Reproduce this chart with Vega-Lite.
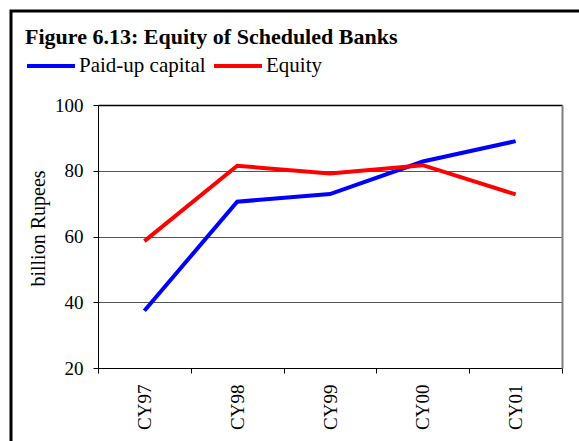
{
  "$schema": "https://vega.github.io/schema/vega-lite/v6.json",
  "width": 572,
  "height": 434,
  "autosize": "none",
  "padding": {"left": 11, "top": 11, "right": 0, "bottom": 0},
  "background": "white",
  "config": {
    "font": "Liberation Serif",
    "view": {"stroke": "black", "strokeWidth": 3},
    "legend": {"labelFont": "Liberation Serif", "labelFontSize": 21, "labelColor": "black"},
    "style": {"guide-label": {"font": "Liberation Serif"}, "guide-title": {"font": "Liberation Serif"}}
  },
  "title": {
    "text": "Figure 6.13: Equity of Scheduled Banks",
    "anchor": "start",
    "frame": "group",
    "orient": "top",
    "offset": 0,
    "baseline": "alphabetic",
    "dx": 14,
    "dy": 55,
    "font": "Liberation Serif",
    "fontSize": 22,
    "fontWeight": "bold",
    "color": "black"
  },
  "data": {
    "values": [
      {"year": "CY97", "series": "Paid-up capital", "value": 37.4},
      {"year": "CY98", "series": "Paid-up capital", "value": 70.6},
      {"year": "CY99", "series": "Paid-up capital", "value": 72.9},
      {"year": "CY00", "series": "Paid-up capital", "value": 82.8},
      {"year": "CY01", "series": "Paid-up capital", "value": 89.0},
      {"year": "CY97", "series": "Equity", "value": 58.6},
      {"year": "CY98", "series": "Equity", "value": 81.5},
      {"year": "CY99", "series": "Equity", "value": 79.2},
      {"year": "CY00", "series": "Equity", "value": 81.7},
      {"year": "CY01", "series": "Equity", "value": 72.8}
    ]
  },
  "layer": [
    {
      "mark": {"type": "line", "strokeWidth": 4},
      "encoding": {
        "x": {
          "field": "year",
          "type": "nominal",
          "bandPosition": 0.5,
          "scale": {
            "type": "band",
            "domain": ["CY97", "CY98", "CY99", "CY00", "CY01"],
            "range": [87, 551],
            "paddingInner": 0,
            "paddingOuter": 0
          },
          "axis": {
            "orient": "bottom",
            "offset": -77,
            "title": null,
            "domainColor": "black",
            "domainWidth": 1,
            "tickColor": "black",
            "tickWidth": 1,
            "tickSize": 5,
            "tickBand": "extent",
            "labelAngle": -90,
            "labelAlign": "right",
            "labelBaseline": "middle",
            "labelPadding": 11,
            "labelFont": "Liberation Serif",
            "labelFontSize": 19,
            "labelColor": "black",
            "grid": false
          }
        },
        "y": {
          "field": "value",
          "type": "quantitative",
          "scale": {"domain": [20, 100], "range": [357, 94], "nice": false, "zero": false},
          "axis": {
            "orient": "left",
            "offset": -87,
            "values": [20, 40, 60, 80, 100],
            "domainColor": "black",
            "domainWidth": 1,
            "tickColor": "black",
            "tickWidth": 1,
            "tickSize": 5,
            "labelPadding": 10,
            "labelFont": "Liberation Serif",
            "labelFontSize": 19,
            "labelColor": "black",
            "grid": true,
            "gridColor": "#555555",
            "gridWidth": 1,
            "title": "billion Rupees",
            "titleFont": "Liberation Serif",
            "titleFontSize": 20,
            "titleFontWeight": "normal",
            "titleColor": "black",
            "titleAngle": -90,
            "titleAlign": "center",
            "titleBaseline": "middle",
            "titleX": -60,
            "titleY": 217
          }
        },
        "color": {
          "field": "series",
          "type": "nominal",
          "scale": {"domain": ["Paid-up capital", "Equity"], "range": ["#0000ff", "#ff0000"]},
          "legend": {
            "title": null,
            "orient": "none",
            "direction": "horizontal",
            "legendX": 14,
            "legendY": 29,
            "padding": 0,
            "offset": 0,
            "symbolType": "stroke",
            "symbolSize": 2304,
            "symbolStrokeWidth": 4,
            "labelOffset": 2,
            "columnPadding": 0,
            "labelFont": "Liberation Serif",
            "labelFontSize": 21,
            "labelColor": "black",
            "labelLimit": 0,
            "encode": {
              "labels": {"update": {"font": {"value": "Liberation Serif"}, "fontSize": {"value": 21}}}
            }
          }
        }
      }
    },
    {
      "mark": {"type": "line", "strokeWidth": 4, "strokeOpacity": 0},
      "encoding": {
        "x": {
          "field": "year",
          "type": "nominal",
          "bandPosition": 0.5,
          "axis": {
            "orient": "top",
            "offset": -94,
            "title": null,
            "domainColor": "black",
            "domainWidth": 1.5,
            "ticks": false,
            "labels": false,
            "grid": false
          }
        },
        "y": {
          "field": "value",
          "type": "quantitative",
          "axis": {
            "orient": "right",
            "offset": -21,
            "title": null,
            "domainColor": "#808080",
            "domainWidth": 2,
            "ticks": false,
            "labels": false,
            "grid": false
          }
        },
        "detail": {"field": "series", "type": "nominal"}
      }
    }
  ],
  "resolve": {"axis": {"x": "independent", "y": "independent"}}
}
